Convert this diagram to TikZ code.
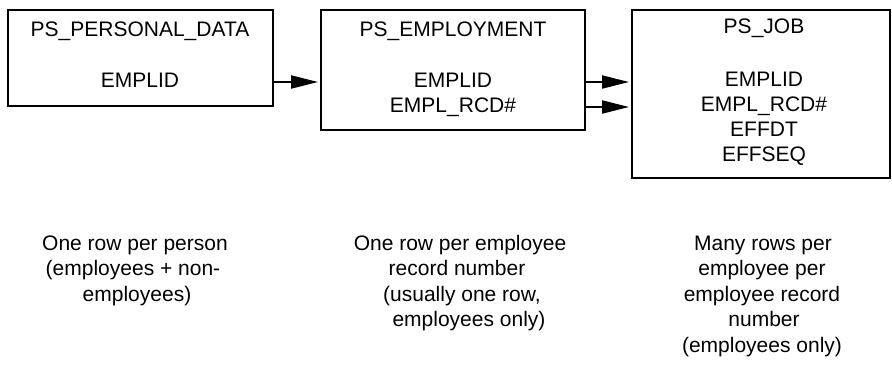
\documentclass[tikz,border=0pt]{standalone}
\usepackage{fontspec}
\setmainfont{Liberation Sans}
\usetikzlibrary{arrows.meta}
\begin{document}
\begin{tikzpicture}[x=1pt,y=-1pt,
  tbox/.style={draw=black,line width=2pt,fill=none,inner sep=0pt},
  txt/.style={anchor=base,inner sep=0pt,font=\fontsize{21}{25}\selectfont},
  arr/.style={line width=2pt,-{Triangle[length=27pt,width=13pt]},shorten >=2pt}]
\useasboundingbox (0,0) rectangle (892,368);
% boxes
\node[tbox,minimum width=265pt,minimum height=96pt] (pd) at (140.5,58) {};
\node[tbox,minimum width=264pt,minimum height=120pt] (emp) at (453,70) {};
\node[tbox,minimum width=258pt,minimum height=168pt] (job) at (761,94) {};
% box texts
\node[txt] (pdt) at (140,36) {PS\_PERSONAL\_DATA};
\node[txt] (pd1) at (140,87) {EMPLID};
\node[txt] (empt) at (453,36) {PS\_EMPLOYMENT};
\node[txt] (emp1) at (453,87) {EMPLID};
\node[txt] (emp2) at (453,112) {EMPL\_RCD\#};
\node[txt] (jobt) at (764,33.5) {PS\_JOB};
\node[txt] (job1) at (764,86.5) {EMPLID};
\node[txt] (job2) at (764,111.5) {EMPL\_RCD\#};
\node[txt] (job3) at (764,136.5) {EFFDT};
\node[txt] (job4) at (764,161) {EFFSEQ};
% arrows
\draw[arr] (pd.east |- {(0,82)}) -- (emp.west |- {(0,82)});
\draw[arr] (emp.east |- {(0,82)}) -- (job.west |- {(0,82)});
\draw[arr] (emp.east |- {(0,107)}) -- (job.west |- {(0,107)});
% captions
\node[txt] (c1a) at (135,250) {One row per person};
\node[txt] (c1b) at (133,275.5) {(employees + non-};
\node[txt] (c1c) at (137,301) {employees)};
\node[txt] (c2a) at (460,250) {One row per employee};
\node[txt] (c2b) at (457,275.5) {record number};
\node[txt] (c2c) at (462,301) {(usually one row,};
\node[txt] (c2d) at (469,326.5) {employees only)};
\node[txt] (c3a) at (763,250) {Many rows per};
\node[txt] (c3b) at (762,275.5) {employee per};
\node[txt] (c3c) at (762,301) {employee record};
\node[txt] (c3d) at (764,326.5) {number};
\node[txt] (c3e) at (762,352) {(employees only)};
\end{tikzpicture}
\end{document}
